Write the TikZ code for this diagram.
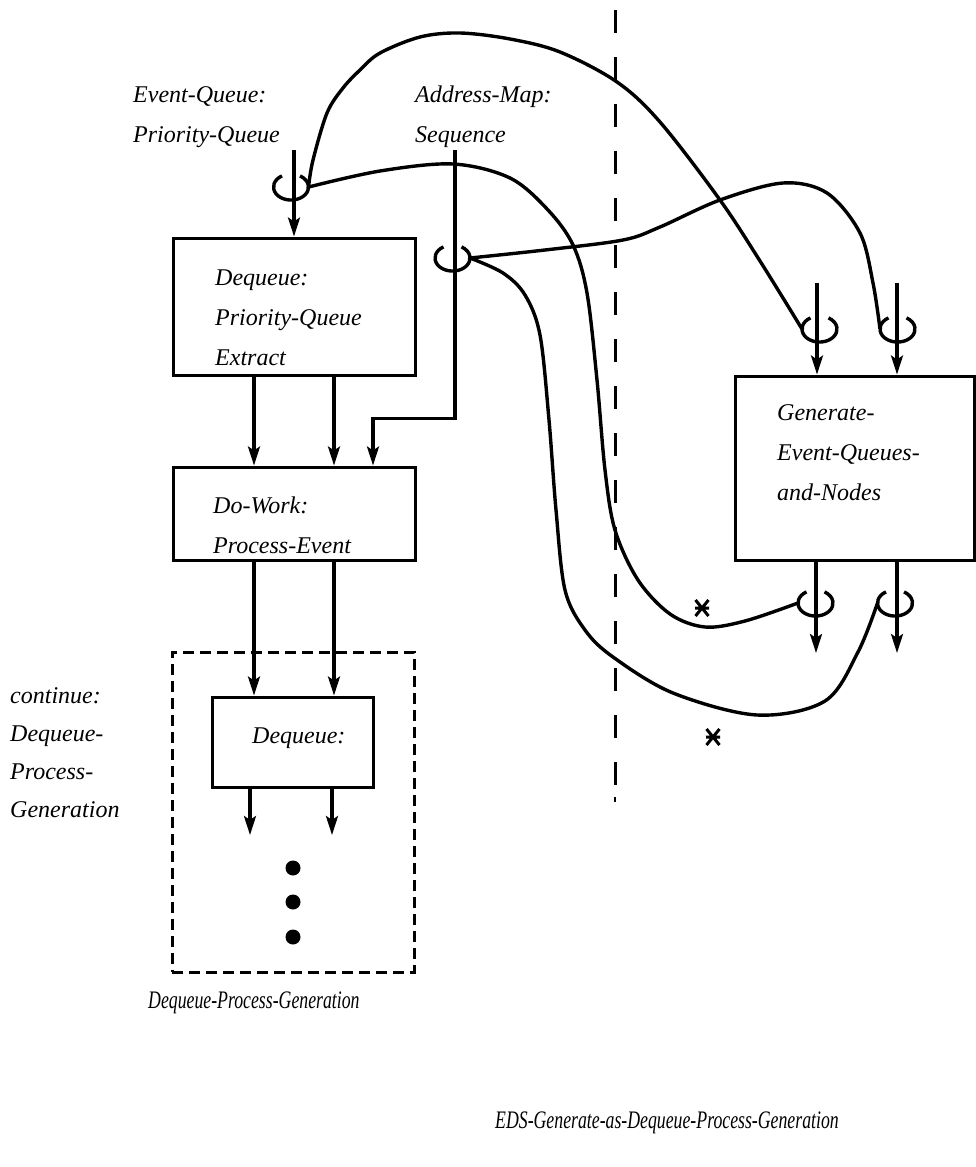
\documentclass[tikz,border=0pt]{standalone}
\usepackage{fontspec}
\setmainfont{Liberation Serif}
\usetikzlibrary{arrows.meta,calc}
\begin{document}
\begin{tikzpicture}[x=1pt,y=1pt,
  ln/.style={line width=3.4pt},
  arr/.style={line width=3.2pt,-{Stealth[length=19pt,width=12pt,inset=4pt]}},
  box/.style={draw,line width=3pt,inner sep=0pt,rectangle},
  dbox/.style={draw,line width=3pt,inner sep=0pt,rectangle,dash pattern=on 11pt off 6pt},
  lbl/.style={anchor=base west,inner sep=0pt,font=\fontsize{24}{28}\selectfont\itshape},
  dotnode/.style={circle,fill,inner sep=0pt,minimum size=15pt},
  cuploop/.pic={\draw[line width=3.4pt] (-9,11.1) arc[start angle=121,end angle=419,x radius=17.5,y radius=13];
    \coordinate (-l) at (-17.5,0); \coordinate (-r) at (17.5,0);},
  xmark/.pic={\draw[line width=3pt] (-6.5,-8)--(6.5,8) (-6.5,8)--(6.5,-8) (-7,0)--(7,0);}
]
\useasboundingbox (0,0) rectangle (976,-1167);

% vertical dashed separator
\coordinate (vtop) at (615,-10);
\coordinate (vbot) at (615,-786);
\coordinate (vdot1) at (615,-797);
\coordinate (vdot2) at (615,-802);
\draw[line width=3pt,dash pattern=on 23pt off 24pt] (vtop) -- (vbot);
\draw[line width=2.6pt] (vdot1) -- (vdot2);

% boxes
\node[box,minimum width=242pt,minimum height=137pt] (deq) at (294,-306.5) {};
\node[box,minimum width=242pt,minimum height=93pt] (work) at (294,-513.5) {};
\node[dbox,minimum width=242pt,minimum height=320pt] (cont) at (293,-812) {};
\node[box,minimum width=161pt,minimum height=90pt] (deq2) at (292.5,-742) {};
\node[box,minimum width=239pt,minimum height=184pt] (gen) at (854.5,-468) {};

% labels
\node[lbl] (t1) at (133,-102) {Event-Queue:};
\node[lbl] (t2) at (133,-142) {Priority-Queue};
\node[lbl] (t3) at (415,-102) {Address-Map:};
\node[lbl] (t4) at (415,-142) {Sequence};
\node[lbl] (t5) at (215,-285) {Dequeue:};
\node[lbl] (t6) at (215,-325) {Priority-Queue};
\node[lbl] (t7) at (215,-365) {Extract};
\node[lbl] (t8) at (213,-513) {Do-Work:};
\node[lbl] (t9) at (213,-553) {Process-Event};
\node[lbl] (t10) at (252,-743) {Dequeue:};
\node[lbl] (t11) at (777,-420) {Generate-};
\node[lbl] (t12) at (777,-460) {Event-Queues-};
\node[lbl] (t13) at (777,-500) {and-Nodes};
\node[lbl] (t14) at (10,-703) {continue:};
\node[lbl] (t15) at (10,-741) {Dequeue-};
\node[lbl] (t16) at (10,-779) {Process-};
\node[lbl] (t17) at (10,-817) {Generation};
\node[lbl] (t18) at (148,-1008) {\scalebox{0.74}[1.05]{Dequeue-Process-Generation}};
\node[lbl] (t19) at (495,-1128) {\scalebox{0.74}[1.05]{EDS-Generate-as-Dequeue-Process-Generation}};

% straight arrows
\coordinate (Ein) at (294,-150);
\coordinate (Ain) at (455,-150);
\draw[arr] (Ein) -- (deq.north);
\draw[arr] (Ain) |- ([xshift=79pt,yshift=47pt]work.north) -- ([xshift=79pt]work.north);
\draw[arr] ([xshift=-40pt]deq.south) -- ([xshift=-40pt]work.north);
\draw[arr] ([xshift=40pt]deq.south) -- ([xshift=40pt]work.north);
\draw[arr] ([xshift=-40pt]work.south) -- ([xshift=-40pt]work.south |- deq2.north);
\draw[arr] ([xshift=40pt]work.south) -- ([xshift=40pt]work.south |- deq2.north);
\coordinate (o1) at (250,-835);
\coordinate (o2) at (332,-835);
\draw[arr] (deq2.south -| o1) -- (o1);
\draw[arr] (deq2.south -| o2) -- (o2);
\coordinate (gi1) at (817,-283);
\coordinate (gi2) at (897,-283);
\draw[arr] (gi1) -- (gi1 |- gen.north);
\draw[arr] (gi2) -- (gi2 |- gen.north);
\coordinate (go1) at (816,-653);
\coordinate (go2) at (897,-653);
\draw[arr] (gen.south -| go1) -- (go1);
\draw[arr] (gen.south -| go2) -- (go2);

% dots
\node[dotnode] (d1) at (293,-868) {};
\node[dotnode] (d2) at (293,-902) {};
\node[dotnode] (d3) at (293,-937) {};

% cups
\pic (E) at (291,-187) {cuploop};
\pic (A) at (452.5,-258) {cuploop};
\pic (G1) at (819.5,-329) {cuploop};
\pic (G2) at (897.5,-329) {cuploop};
\pic (G3) at (815.5,-603) {cuploop};
\pic (G4) at (895,-603) {cuploop};

% curves
\draw[ln] plot[smooth,tension=0.55] coordinates {(E-r) (313,-160) (327,-113) (343,-88) (360,-70) (380,-53) (420,-37) (460,-33) (510,-39) (560,-52) (617,-82) (660,-122) (720,-200) (760,-261) (G1-l)};
\draw[ln] plot[smooth,tension=0.55] coordinates {(E-r) (380,-171) (453,-164) (510,-178) (548,-210) (573,-245) (587,-293) (597,-380) (605,-470) (615,-530) (638,-580) (670,-614) (705,-627) (745,-621) (G3-l)};
\draw[ln] plot[smooth,tension=0.55] coordinates {(A-r) (545,-250) (623,-240) (660,-227) (720,-200) (783,-183) (827,-193) (860,-233) (873,-283) (G2-l)};
\draw[ln] plot[smooth,tension=0.55] coordinates {(A-r) (503,-273) (525,-295) (540,-335) (549,-420) (556,-510) (565,-590) (585,-630) (613,-657) (673,-693) (757,-715) (825,-701) (858,-652) (G4-l)};

% x marks
\pic (x1) at (702,-608) {xmark};
\pic (x2) at (713,-737) {xmark};
\end{tikzpicture}
\end{document}
